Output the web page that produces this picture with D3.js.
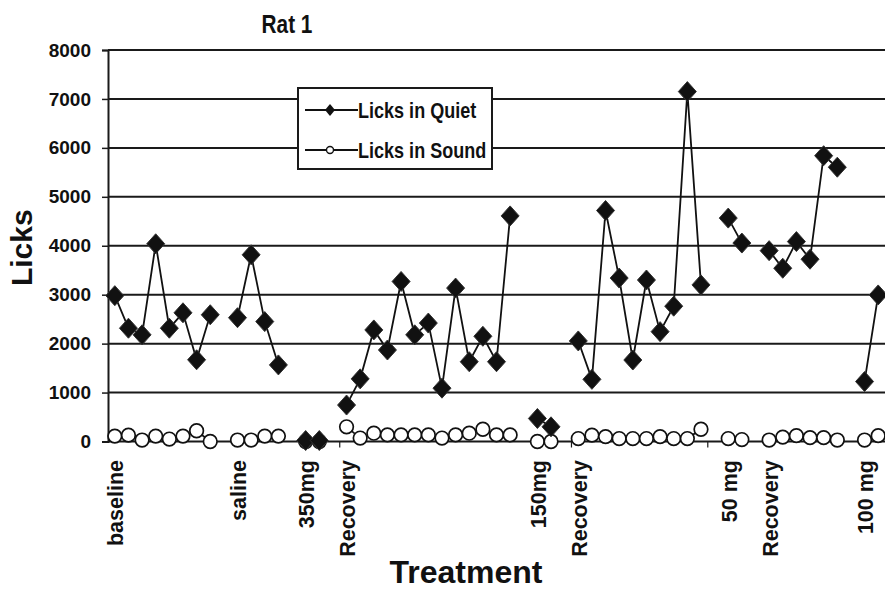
<!DOCTYPE html>
<html>
<head>
<meta charset="utf-8">
<script src="https://cdn.jsdelivr.net/npm/d3@7"></script>
<style>
  html, body { margin: 0; padding: 0; background: #fff; }
  svg { display: block; font-family: "Liberation Sans", Arial, sans-serif; font-weight: bold; }
</style>
</head>
<body>
<div id="vis"></div>
<script>
// Rat 1: licks per session in quiet vs. sound, across treatment phases.
// null = empty session slot, so the lines break between phases.

const N_SESSIONS = 57;

const TREATMENT_LABELS = [
  [0, "baseline"], [9, "saline"], [14, "350mg"], [17, "Recovery"],
  [31, "150mg"], [34, "Recovery"], [45, "50 mg"], [48, "Recovery"], [55, "100 mg"],
];

const LICKS_QUIET = [
  2980, 2315, 2180, 4040, 2315, 2630, 1670, 2590, null,   // baseline
  2530, 3815, 2450, 1565, null,                           // saline
  20, 20, null,                                           // 350mg
  745, 1280, 2280, 1870, 3270, 2180, 2420, 1090, 3135, 1630, 2150, 1630, 4610, null,
  470, 300, null,                                         // 150mg
  2055, 1270, 4720, 3340, 1665, 3300, 2245, 2765, 7150, 3200, null,
  4565, 4055, null,                                       // 50 mg
  3900, 3540, 4085, 3725, 5840, 5605, null,
  1225, 2995,                                             // 100 mg
];

const LICKS_SOUND = [
  110, 130, 30, 110, 50, 110, 220, 0, null,
  30, 30, 110, 110, null,
  0, 0, null,
  300, 70, 170, 135, 135, 135, 135, 70, 135, 170, 250, 135, 135, null,
  0, 0, null,
  60, 130, 100, 60, 60, 60, 100, 60, 60, 250, null,
  60, 40, null,
  30, 90, 120, 80, 80, 30, null,
  30, 120,
];

const Y_TICKS      = [0, 1000, 2000, 3000, 4000, 5000, 6000, 7000, 8000];
const X_TICK_MARKS = [17, 34, 44];   // category boundaries carrying a small tick

const SERIES = [
  { name: "Licks in Sound", values: LICKS_SOUND, marker: "circle"  },
  { name: "Licks in Quiet", values: LICKS_QUIET, marker: "diamond" },
];

// ── Layout ───────────────────────────────────────────────────────────────────

const W = 885, H = 591;
const margin = { top: 50, right: 0, bottom: 149.5, left: 108 };
const innerW = W - margin.left - margin.right;
const innerH = H - margin.top - margin.bottom;

const xScale = d3.scaleBand()
  .domain(d3.range(N_SESSIONS)).range([0, innerW]).paddingInner(0).paddingOuter(0);
const cx = i => xScale(i) + xScale.bandwidth() / 2;

const yScale = d3.scaleLinear().domain([0, 8000]).range([innerH, 0]);

const diamondPath = (hw, hh) => `M0,${-hh}L${hw},0L0,${hh}L${-hw},0Z`;

const svg = d3.select("#vis").append("svg").attr("width", W).attr("height", H);
const g   = svg.append("g").attr("transform", `translate(${margin.left},${margin.top})`);

// ── Grid + axes ──────────────────────────────────────────────────────────────

g.append("g")
  .selectAll("line")
  .data(Y_TICKS.filter(v => v > 0))
  .join("line")
    .attr("x1", 0).attr("x2", innerW)
    .attr("y1", d => yScale(d)).attr("y2", d => yScale(d))
    .attr("stroke", "#1a1a1a").attr("stroke-width", 2);

g.append("g")
  .call(d3.axisLeft(yScale).tickValues(Y_TICKS).tickFormat(d3.format("d")).tickSize(6).tickPadding(11))
  .call(ax => ax.select(".domain").attr("stroke", "#1a1a1a").attr("stroke-width", 2))
  .call(ax => ax.selectAll(".tick line").attr("stroke", "#1a1a1a").attr("stroke-width", 1.5))
  .selectAll("text")
    .style("font-family", "inherit").style("font-size", "19px").style("font-weight", "bold")
    .attr("fill", "#111");

g.append("line")
  .attr("x1", 0).attr("x2", innerW)
  .attr("y1", yScale(0)).attr("y2", yScale(0))
  .attr("stroke", "#1a1a1a").attr("stroke-width", 2);

g.append("g")
  .selectAll("line")
  .data(X_TICK_MARKS)
  .join("line")
    .attr("x1", d => xScale(d)).attr("x2", d => xScale(d))
    .attr("y1", yScale(0)).attr("y2", yScale(0) + 6)
    .attr("stroke", "#1a1a1a").attr("stroke-width", 1.2);

g.append("g")
  .selectAll("text")
  .data(TREATMENT_LABELS)
  .join("text")
    .attr("transform", ([i]) => `translate(${cx(i)},${yScale(0) + 18.5}) rotate(-90)`)
    .attr("text-anchor", "end").attr("dy", "0.4em")
    .style("font-size", "21.5px").attr("fill", "#111")
    .text(([, label]) => label);

// ── Series ───────────────────────────────────────────────────────────────────

const line = d3.line()
  .defined(d => d.v !== null)
  .x(d => cx(d.i)).y(d => yScale(d.v));

SERIES.forEach(s => {
  const pts = s.values.map((v, i) => ({ i, v }));

  g.append("path")
    .datum(pts)
    .attr("d", line)
    .attr("fill", "none").attr("stroke", "#111").attr("stroke-width", 1.8);

  const marks = g.append("g")
    .selectAll(s.marker === "circle" ? "circle" : "path")
    .data(pts.filter(d => d.v !== null))
    .join(s.marker === "circle" ? "circle" : "path");

  if (s.marker === "circle") {
    marks.attr("cx", d => cx(d.i)).attr("cy", d => yScale(d.v)).attr("r", 6.8)
      .attr("fill", "#fff").attr("stroke", "#111").attr("stroke-width", 1.7);
  } else {
    marks.attr("transform", d => `translate(${cx(d.i)},${yScale(d.v)})`)
      .attr("d", diamondPath(9, 10))
      .attr("fill", "#111").attr("stroke", "#333").attr("stroke-width", 1);
  }
});

// ── Legend ───────────────────────────────────────────────────────────────────
// Legend and title type is set narrow in the original, so it is squeezed horizontally.

const legend = svg.append("g").attr("transform", "translate(298,88)");
legend.append("rect")
  .attr("width", 194).attr("height", 81)
  .attr("fill", "#fff").attr("stroke", "#1a1a1a").attr("stroke-width", 2);

[...SERIES].reverse().forEach((s, k) => {
  const row = legend.append("g").attr("transform", `translate(0,${22 + k * 40})`);
  row.append("line").attr("x1", 7).attr("x2", 60).attr("stroke", "#111").attr("stroke-width", 1.8);
  if (s.marker === "circle") {
    row.append("circle").attr("cx", 32).attr("r", 3.5)
      .attr("fill", "#fff").attr("stroke", "#111").attr("stroke-width", 1.4);
  } else {
    row.append("path").attr("transform", "translate(32,0)").attr("d", diamondPath(5, 6)).attr("fill", "#111");
  }
  row.append("text")
    .attr("transform", "translate(60,0) scale(0.82,1)").attr("dy", "0.36em")
    .style("font-size", "22px").attr("fill", "#111")
    .text(s.name);
});

// ── Titles ───────────────────────────────────────────────────────────────────

svg.append("text")
  .attr("transform", "translate(287,33) scale(0.8,1)").attr("text-anchor", "middle")
  .style("font-size", "26px").attr("fill", "#111")
  .text("Rat 1");

svg.append("text")
  .attr("transform", `translate(31.5,${margin.top + innerH / 2 + 2}) rotate(-90)`)
  .attr("text-anchor", "middle")
  .style("font-size", "30px").attr("fill", "#111")
  .text("Licks");

svg.append("text")
  .attr("x", 466).attr("y", 583).attr("text-anchor", "middle")
  .style("font-size", "32px").attr("fill", "#111")
  .text("Treatment");
</script>
</body>
</html>
